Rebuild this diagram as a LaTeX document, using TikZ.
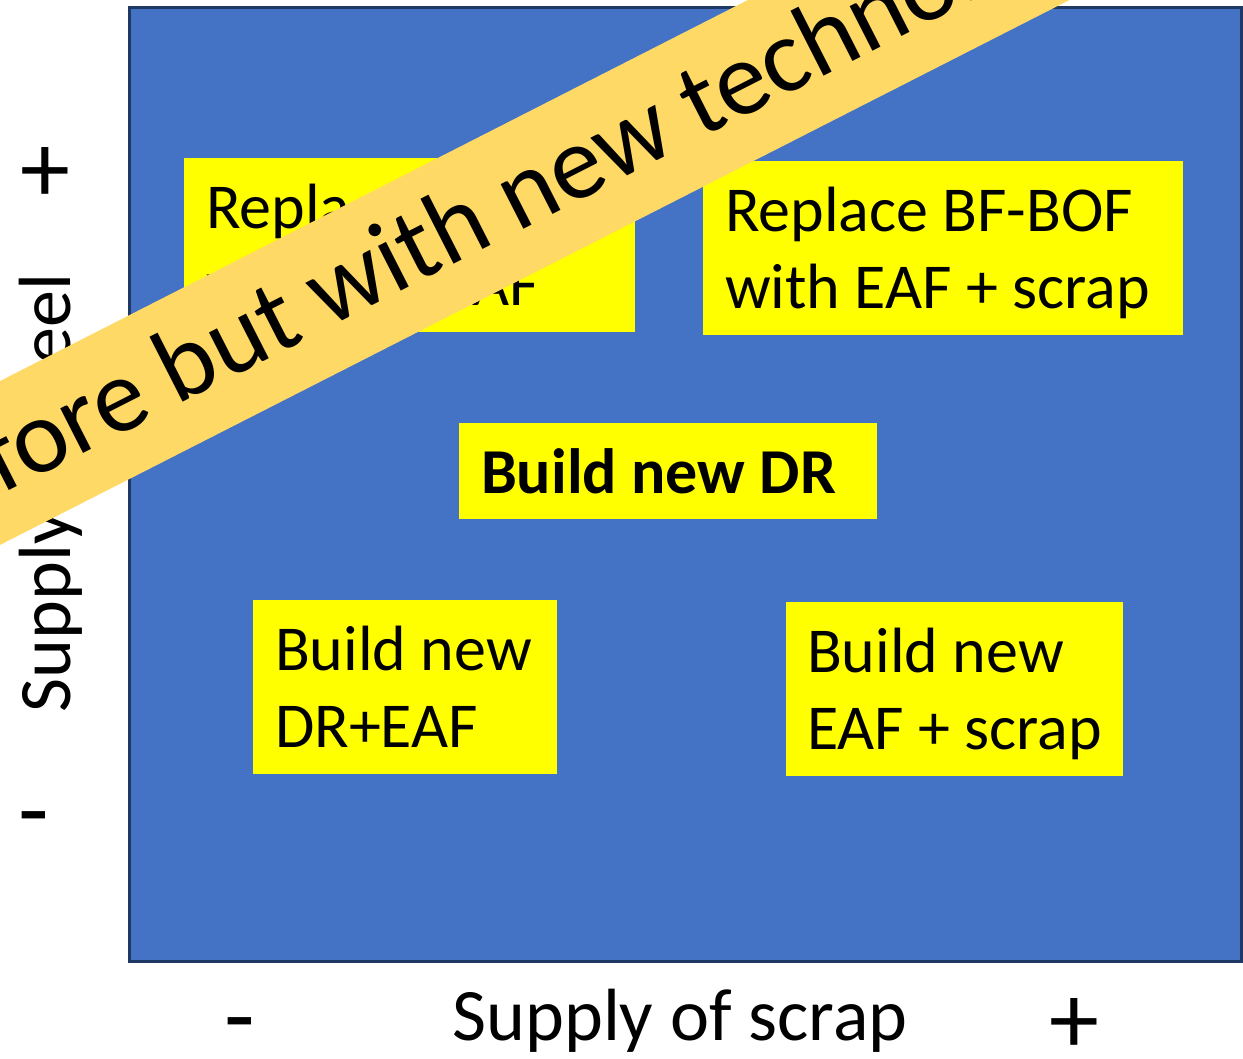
\documentclass[tikz,border=0pt]{standalone}
\usepackage{fontspec}
\setmainfont{Carlito}
\definecolor{panelblue}{HTML}{4472C4}
\definecolor{paneledge}{HTML}{203864}
\definecolor{boxyellow}{HTML}{FFFF00}
\definecolor{bannergold}{HTML}{FFD966}
\begin{document}
\begin{tikzpicture}[x=0.5pt,y=-0.5pt,
  quad/.style={fill=boxyellow, inner xsep=11pt, inner ysep=0pt, align=left,
    minimum height=87pt, text depth=38.5pt, font=\fontsize{32pt}{38.5pt}\selectfont,
    execute at begin node={\spaceskip=0pt\xspaceskip=0pt}},
  axislabel/.style={inner sep=0pt, font=\fontsize{37pt}{44pt}\selectfont},
  sign/.style={inner sep=0pt, anchor=base, font=\fontsize{50pt}{60pt}\selectfont},
  bannertext/.style={inner sep=0pt, anchor=base west, rotate=27,
    font=\fontsize{52.5pt}{63pt}\selectfont}]
\useasboundingbox (0,0) rectangle (1243,1059);

% scenario panel
\node[fill=panelblue, draw=paneledge, line width=1.5pt, inner sep=0pt,
  minimum width=556pt, minimum height=477pt, anchor=north west] (panel) at (128,6) {};

% strategy boxes
\node[quad, minimum width=225.5pt, text width=203.5pt] (tl) at (409.5,245)
  {Replace BF-BOF\\with DR+EAF};
\node[quad, minimum width=240pt, text width=218pt] (tr) at (943,248)
  {Replace BF-BOF\\with EAF + scrap};
\node[quad, minimum width=209pt, text width=187pt, minimum height=48pt, text depth=,
  font=\fontsize{32pt}{38.5pt}\selectfont\bfseries] (mid) at (668,471)
  {Build new DR};
\node[quad, minimum width=152pt, text width=130pt] (bl) at (405,687)
  {Build new\\DR+EAF};
\node[quad, inner xsep=10.5pt, minimum width=168.5pt, text width=147.5pt] (br) at (954.5,689)
  {Build new\\EAF + scrap};

% axes
\node[axislabel, anchor=base] (xlab) at (680,1040) {Supply of scrap};
\node[axislabel, anchor=base, rotate=90] (ylab) at (70,493) {Supply of steel};
\node[sign] (xminus) at (240,1049) {-};
\node[sign] (xplus) at (1074,1053) {+};
\node[sign] (yplus) at (45,203) {+};
\node[sign] (yminus) at (34,843) {-};

% diagonal banner
\begin{scope}
  \clip (0,0) rectangle (1243,1059);
  \fill[bannergold, shift={(0,463)}, rotate=27] (-200,-73) rectangle (1700,73);
  \node[bannertext] (banner) at (1.5,495)
    {\llap{Same as be}fore but with new technology};
\end{scope}
\end{tikzpicture}
\end{document}
